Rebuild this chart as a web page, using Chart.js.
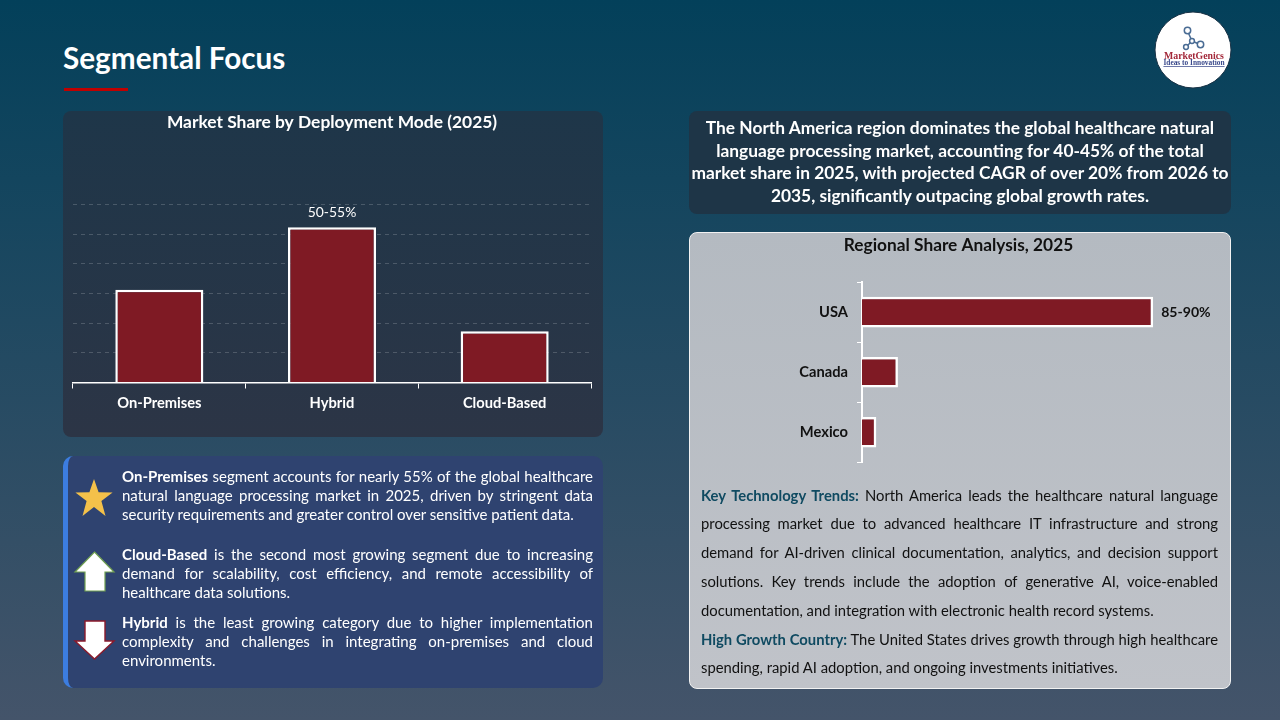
<!DOCTYPE html>
<html>
<head>
<meta charset="utf-8">
<script src="https://cdn.jsdelivr.net/npm/chart.js@4"></script>
<style>
  html, body { margin: 0; padding: 0; }
  body { width: 1280px; height: 720px; overflow: hidden; position: relative; font-family: Lato, sans-serif;
    background: linear-gradient(180deg, #03405a 0%, #44546a 100%); }
  .abs { position: absolute; }
  .panel { position: absolute; box-sizing: border-box; border-radius: 8px; }
  canvas { position: absolute; display: block; }
  #heading { left: 63px; top: 39px; font-size: 29.7px; font-weight: 700; color: #fff; line-height: 38px; white-space: nowrap; }
  #rule { left: 64px; top: 88px; width: 64px; height: 3px; background: #c00000; }
  #leftChartPanel { left: 63px; top: 111px; width: 540px; height: 326px; background: linear-gradient(180deg, #1e3649, #2c3546); }
  #notePanel { left: 63px; top: 456px; width: 540px; height: 232px; background: #2f4370; border-left: 5px solid #3c7de0; border-radius: 10px; }
  #summaryPanel { left: 689px; top: 111px; width: 542px; height: 103px; background: #1e3547; }
  #rightPanel { left: 689px; top: 232px; width: 542px; height: 457px; background: linear-gradient(180deg, #b4bac1, #c0c3c9); border: 1px solid #f2f2f2; }
  .line { position: absolute; white-space: nowrap; text-align: justify; text-align-last: justify; }
  .line.last { text-align-last: left; }
  .note { left: 122px; width: 471px; font-size: 15px; line-height: 19px; color: #fff; }
  .body { left: 701px; width: 517px; font-size: 14.8px; line-height: 20px; color: #111; }
  .body b { color: #0f4a61; }
  .sum { left: 689px; width: 542px; text-align: center; text-align-last: center; font-size: 17.35px; font-weight: 700; line-height: 22px; color: #fff; }
</style>
</head>
<body>
  <div id="heading" class="abs">Segmental Focus</div>
  <div id="rule" class="abs"></div>
  <div id="leftChartPanel" class="panel"></div>
  <div id="notePanel" class="panel"></div>
  <div id="summaryPanel" class="panel"></div>
  <div id="rightPanel" class="panel"></div>
  <canvas id="deployChart" width="540" height="326" style="left:63px;top:111px"></canvas>
  <canvas id="regionChart" width="539" height="236" style="left:689px;top:234px"></canvas>

  <svg class="abs" style="left:0;top:0" width="1280" height="720">
    <!-- logo -->
    <circle cx="1193" cy="50" r="38" fill="#fff" stroke="#1b3346" stroke-width="1"/>
    <g fill="none" stroke="#4a6c94" stroke-width="1.5">
      <line x1="1187.5" y1="31" x2="1192" y2="41"/>
      <line x1="1192" y1="41" x2="1200" y2="44.5"/>
      <line x1="1192" y1="41" x2="1186" y2="47"/>
      <circle cx="1187.5" cy="30.5" r="3.2" fill="#fff"/>
      <circle cx="1200.5" cy="44.5" r="3.2" fill="#fff"/>
      <circle cx="1186" cy="47" r="2.4" fill="#fff"/>
      <circle cx="1192" cy="41" r="2.4" fill="#fff"/>
    </g>
    <text x="1194" y="59" text-anchor="middle" font-family="Liberation Serif" font-size="9.8" font-weight="700" fill="#a3283a">MarketGenics</text>
    <text x="1194" y="65" text-anchor="middle" font-family="Liberation Serif" font-size="7.4" font-weight="700" fill="#3b4a8c" text-decoration="underline">Ideas to Innovation</text>
    <!-- note icons -->
    <polygon points="94,479 98.6,492.2 112.6,492.5 101.4,501 105.5,516 94,507 82.5,516 86.6,501 75.4,492.5 89.4,492.2" fill="#f4c14a"/>
    <polygon points="94.5,552 114,572 105,572 105,591 85,591 85,572 75,572" fill="#fff" stroke="#70a050" stroke-width="1.2"/>
    <polygon points="85,621 105,621 105,641 114,641 94.5,659 75,641 85,641" fill="#fff" stroke="#8b1a2b" stroke-width="1.4"/>
  </svg>

  <div id="notes"></div>

  <script>
    // chart data
    const deployLabels = ['On-Premises', 'Hybrid', 'Cloud-Based'];
    const deployValues = [31.3, 52.3, 17.3];
    const deployTags = ['', '50-55%', ''];
    const deployMax = 60;
    const deployStep = 10;

    const regionLabels = ['USA', 'Canada', 'Mexico'];
    const regionValues = [87.5, 10.8, 4.3];
    const regionTags = ['85-90%', '', ''];
    const regionMax = 110;

    // slide text, one entry per rendered line
    const noteLines = [
      [476, '<b>On-Premises</b> segment accounts for nearly 55% of the global healthcare'],
      [495, 'natural language processing market in 2025, driven by stringent data'],
      [514, 'security requirements and greater control over sensitive patient data.', 1],
      [554, '<b>Cloud-Based</b> is the second most growing segment due to increasing'],
      [573, 'demand for scalability, cost efficiency, and remote accessibility of'],
      [592, 'healthcare data solutions.', 1],
      [622, '<b>Hybrid</b> is the least growing category due to higher implementation'],
      [641, 'complexity and challenges in integrating on-premises and cloud'],
      [660, 'environments.', 1]
    ];
    const summaryLines = [
      [128, 'The North America region dominates the global healthcare natural'],
      [151, 'language processing market, accounting for 40-45% of the total'],
      [173, 'market share in 2025, with projected CAGR of over 20% from 2026 to'],
      [196, '2035, significantly outpacing global growth rates.']
    ];
    const bodyLines = [
      [495, '<b>Key Technology Trends:</b> North America leads the healthcare natural language'],
      [523, 'processing market due to advanced healthcare IT infrastructure and strong'],
      [552, 'demand for AI-driven clinical documentation, analytics, and decision support'],
      [581, 'solutions. Key trends include the adoption of generative AI, voice-enabled'],
      [610, 'documentation, and integration with electronic health record systems.', 1],
      [639, '<b>High Growth Country:</b> The United States drives growth through high healthcare'],
      [667, 'spending, rapid AI adoption, and ongoing investments initiatives.', 1]
    ];

    const holder = document.getElementById('notes');
    function addLines(lines, cls, height) {
      lines.forEach(([y, html, last]) => {
        const el = document.createElement('div');
        el.className = 'line ' + cls + (last ? ' last' : '');
        el.style.top = (y - height / 2) + 'px';
        el.innerHTML = html;
        holder.appendChild(el);
      });
    }
    addLines(noteLines, 'note', 19);
    addLines(summaryLines, 'sum', 22);
    addLines(bodyLines, 'body', 20);

    // draws the text tags next to bars
    const tagPlugin = {
      id: 'barTags',
      afterDatasetsDraw(chart, args, opts) {
        const { ctx } = chart;
        chart.getDatasetMeta(0).data.forEach((bar, i) => {
          if (!opts.tags[i]) return;
          ctx.save();
          ctx.font = opts.font;
          ctx.fillStyle = opts.color;
          ctx.textBaseline = 'middle';
          ctx.textAlign = opts.horizontal ? 'left' : 'center';
          if (opts.horizontal) ctx.fillText(opts.tags[i], bar.x + 8, bar.y);
          else ctx.fillText(opts.tags[i], bar.x, bar.y - 15);
          ctx.restore();
        });
      }
    };

    new Chart(document.getElementById('deployChart'), {
      type: 'bar',
      plugins: [tagPlugin],
      data: {
        labels: deployLabels,
        datasets: [{
          data: deployValues,
          backgroundColor: '#7f1a24',
          borderColor: '#fff',
          borderWidth: 2.5,
          barPercentage: 0.51,
          categoryPercentage: 1
        }]
      },
      options: {
        responsive: false,
        animation: false,
        layout: { padding: { left: 10, right: 12 } },
        plugins: {
          legend: { display: false },
          tooltip: { enabled: false },
          title: {
            display: true,
            text: 'Market Share by Deployment Mode (2025)',
            color: '#fff',
            font: { family: 'Lato', size: 17.4, weight: '700' },
            padding: { top: 1, bottom: 71.6 }
          },
          barTags: { tags: deployTags, font: '13.9px Lato', color: '#fff' }
        },
        scales: {
          x: {
            afterFit: (s) => { s.height = 54.5; },
            border: { color: '#fff', width: 1.5 },
            grid: { drawOnChartArea: false, color: '#fff', tickLength: 6 },
            ticks: { color: '#fff', padding: 6, font: { family: 'Lato', size: 14.7, weight: '700' } }
          },
          y: {
            min: 0,
            max: deployMax,
            afterFit: (s) => { s.width = 0; },
            border: { display: false, dash: [4, 4] },
            grid: { color: 'rgba(255,255,255,0.18)', drawTicks: false },
            ticks: { display: false, stepSize: deployStep }
          }
        }
      }
    });

    new Chart(document.getElementById('regionChart'), {
      type: 'bar',
      plugins: [tagPlugin],
      data: {
        labels: regionLabels,
        datasets: [{
          data: regionValues,
          backgroundColor: '#7f1a24',
          borderColor: '#fff',
          borderWidth: 2.5,
          barPercentage: 0.51,
          categoryPercentage: 1
        }]
      },
      options: {
        indexAxis: 'y',
        responsive: false,
        animation: false,
        layout: { padding: { bottom: 7.7 } },
        plugins: {
          legend: { display: false },
          tooltip: { enabled: false },
          title: {
            display: true,
            text: 'Regional Share Analysis, 2025',
            color: '#111',
            font: { family: 'Lato', size: 17.3, weight: '700' },
            padding: { top: 1, bottom: 26.4 }
          },
          barTags: { tags: regionTags, font: '700 14.1px Lato', color: '#111', horizontal: true }
        },
        scales: {
          x: { display: false, min: 0, max: regionMax },
          y: {
            afterFit: (s) => { s.width = 173; s.paddingTop = 0; s.paddingBottom = 0; },
            border: { color: '#fff', width: 2 },
            grid: { drawOnChartArea: false, color: '#fff', tickLength: 5 },
            ticks: { color: '#111', padding: 9, font: { family: 'Lato', size: 14.7, weight: '700' } }
          }
        }
      }
    });
  </script>
</body>
</html>
